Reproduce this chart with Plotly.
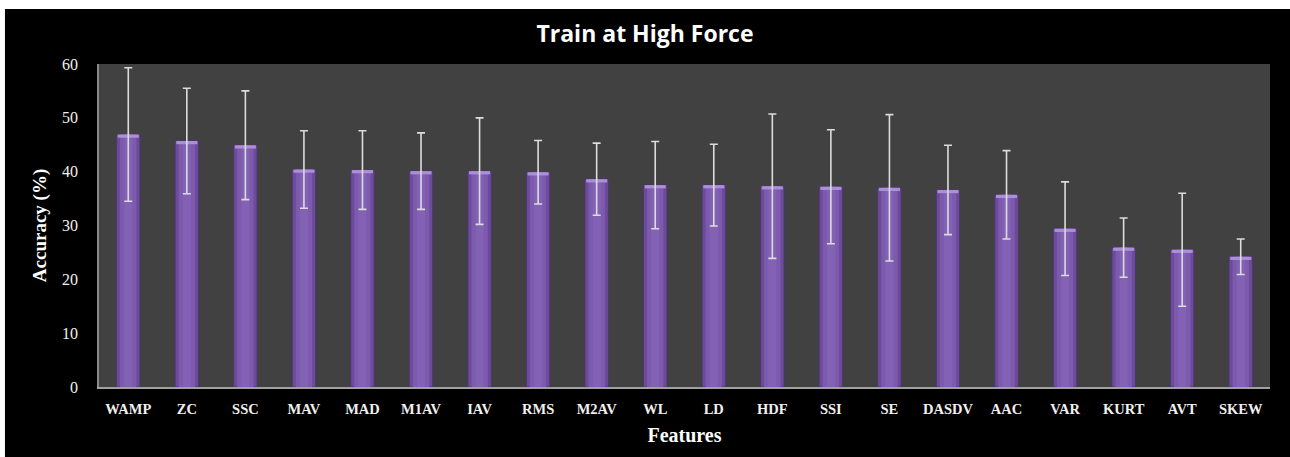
import plotly.graph_objects as go

# Mean classification accuracy per feature, trained at high force
features = ["WAMP", "ZC", "SSC", "MAV", "MAD", "M1AV", "IAV", "RMS", "M2AV", "WL",
            "LD", "HDF", "SSI", "SE", "DASDV", "AAC", "VAR", "KURT", "AVT", "SKEW"]
accuracy = [46.9, 45.7, 44.9, 40.4, 40.3, 40.1, 40.1, 39.9, 38.6, 37.5,
            37.5, 37.3, 37.2, 37.0, 36.6, 35.7, 29.4, 25.9, 25.5, 24.2]
std_dev = [12.4, 9.8, 10.1, 7.2, 7.3, 7.1, 9.9, 5.9, 6.7, 8.1,
           7.6, 13.4, 10.6, 13.6, 8.3, 8.2, 8.7, 5.5, 10.5, 3.3]
y_ticks = [0, 10, 20, 30, 40, 50, 60]

cap = 0.6  # height of the glossy band drawn at the top of each bar
n = len(features)

fig = go.Figure()

# outer (darker) body of each cylinder-like bar
fig.add_trace(go.Bar(
    x=features, y=accuracy, width=0.4,
    marker=dict(color="#6c4c9a", line=dict(color="#4f3673", width=1)),
    hoverinfo="x+y",
))
# lighter middle of the bar for a rounded look
fig.add_trace(go.Bar(
    x=features, y=accuracy, width=0.28,
    marker=dict(color="#7c5aad", line=dict(width=0)),
    hoverinfo="skip",
))
fig.add_trace(go.Bar(
    x=features, y=accuracy, width=0.14,
    marker=dict(color="#8361b4", line=dict(width=0)),
    hoverinfo="skip",
))
# glossy highlight on bar tops
fig.add_trace(go.Bar(
    x=features, y=[cap] * n, base=[v - cap for v in accuracy], width=0.36,
    marker=dict(color="#ab8fd8", line=dict(width=0)),
    hoverinfo="skip",
))
# standard-deviation whiskers
fig.add_trace(go.Scatter(
    x=features, y=accuracy, mode="markers",
    marker=dict(size=1, color="rgba(0,0,0,0)"),
    error_y=dict(type="data", array=std_dev, visible=True,
                 color="#dcdcdc", thickness=1.6, width=4),
    hoverinfo="skip",
))

serif = "Liberation Serif"

fig.update_layout(
    width=1290, height=457,
    margin=dict(l=99, r=20, t=64, b=70),
    paper_bgcolor="black",
    plot_bgcolor="#414141",
    barmode="overlay",
    showlegend=False,
    title=dict(text="<b>Train at High Force</b>", x=0.5, xanchor="center",
               y=0.925, yanchor="middle",
               font=dict(family="Open Sans", size=23, color="white")),
    shapes=[
        # thin white frame on the left and top edges of the image
        dict(type="rect", xref="paper", yref="paper",
             x0=-0.09, x1=-0.0803, y0=-0.3, y1=1.3,
             fillcolor="white", line=dict(width=0), layer="below"),
        dict(type="rect", xref="paper", yref="paper",
             x0=-0.09, x1=1.1, y0=1.17, y1=1.3,
             fillcolor="white", line=dict(width=0), layer="below"),
    ],
    xaxis=dict(
        title=dict(text="<b>Features</b>", standoff=12,
                   font=dict(family=serif, size=20, color="white")),
        tickfont=dict(family=serif, size=14.5, color="#f0f0f0"),
        tickprefix="<b>", ticksuffix="</b>",
        range=[-0.5, n - 0.5],
        showline=True, linecolor="#a0a0a0", linewidth=1.5,
        ticks="", ticklabelstandoff=8,
        showgrid=False, zeroline=False,
    ),
    yaxis=dict(
        title=dict(text="<b>Accuracy (%)</b>", standoff=10,
                   font=dict(family=serif, size=19, color="white")),
        range=[0, 60], tickvals=y_ticks,
        tickfont=dict(family=serif, size=16, color="#f0f0f0"),
        showline=True, linecolor="#8a8a8a", linewidth=1.5,
        ticks="", ticklabelstandoff=16,
        showgrid=False, zeroline=False,
    ),
)

fig.write_html("out.html")
